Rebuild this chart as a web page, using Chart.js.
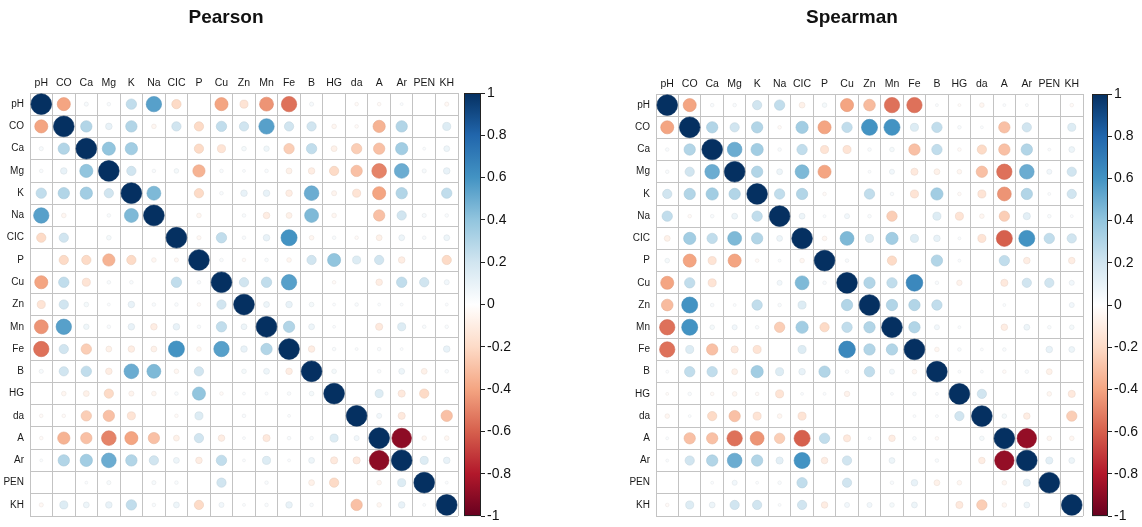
<!DOCTYPE html>
<html><head><meta charset="utf-8">
<script src="https://cdn.jsdelivr.net/npm/chart.js@4.4.0/dist/chart.umd.min.js"></script>
<style>
html,body{margin:0;padding:0;background:#fff;width:1142px;height:527px;overflow:hidden}
.box{position:absolute;top:0;height:527px}
canvas{display:block}
</style></head><body>
<div class="box" style="left:0;width:571px"><canvas id="c1" width="571" height="527"></canvas></div>
<div class="box" style="left:626px;width:516px"><canvas id="c2" width="516" height="527"></canvas></div>
<script>
// ---------- categories ----------
const variables = ["pH","CO","Ca","Mg","K","Na","CIC","P","Cu","Zn","Mn","Fe","B","HG","da","A","Ar","PEN","KH"];
const titles = ["Pearson","Spearman"];
const colorbarMin = -1, colorbarMax = 1, colorbarStep = 0.2;

// ---------- Pearson correlation rows (order = variables) ----------
const pearson_pH  = [1,-0.40,0.04,0.03,0.25,0.55,-0.20,0.00,-0.40,-0.15,-0.45,-0.55,0.04,0.00,-0.03,-0.03,0.02,0.00,-0.04];
const pearson_CO  = [-0.40,1,0.30,0.10,0.30,-0.05,0.20,-0.20,0.25,0.20,0.55,0.20,0.20,-0.05,-0.03,-0.35,0.30,0.00,0.15];
const pearson_Ca  = [0.04,0.30,1,0.40,0.35,0.00,0.00,-0.20,-0.15,0.05,0.07,-0.25,0.25,-0.08,-0.25,-0.30,0.35,0.02,0.08];
const pearson_Mg  = [0.03,0.10,0.40,1,0.20,0.03,0.05,-0.35,0.03,0.02,0.03,-0.08,-0.10,-0.20,-0.30,-0.50,0.50,0.04,0.10];
const pearson_K   = [0.25,0.30,0.35,0.20,1,0.45,0.00,-0.20,0.03,0.10,0.10,-0.10,0.50,-0.06,-0.15,-0.40,0.30,0.00,0.25];
const pearson_Na  = [0.55,-0.05,0.00,0.03,0.45,1,0.00,-0.05,0.00,0.03,-0.10,-0.08,0.45,-0.05,0.00,-0.30,0.20,0.04,0.03];
const pearson_CIC = [-0.20,0.20,0.00,0.05,0.00,0.00,1,-0.04,0.25,0.03,0.10,0.60,-0.05,0.03,-0.03,-0.08,0.08,0.03,0.08];
const pearson_P   = [0.00,-0.20,-0.20,-0.35,-0.20,-0.05,-0.04,1,0.03,-0.03,0.03,-0.05,0.20,0.40,0.15,0.20,-0.10,0.00,-0.20];
const pearson_Cu  = [-0.40,0.25,-0.15,0.03,0.03,0.00,0.25,0.03,1,0.20,0.25,0.55,0.00,-0.03,0.00,-0.10,0.25,0.20,0.06];
const pearson_Zn  = [-0.15,0.20,0.05,0.02,0.10,0.03,0.03,-0.03,0.20,1,0.08,0.10,0.05,0.02,0.03,0.02,0.02,0.00,0.02];
const pearson_Mn  = [-0.45,0.55,0.07,0.03,0.10,-0.10,0.10,0.03,0.25,0.08,1,0.30,0.08,0.02,0.00,-0.12,0.15,0.03,0.03];
const pearson_Fe  = [-0.55,0.20,-0.25,-0.08,-0.10,-0.08,0.60,-0.05,0.55,0.10,0.30,1,-0.10,0.03,0.02,0.03,0.02,0.00,0.10];
const pearson_B   = [0.04,0.20,0.25,-0.10,0.50,0.45,-0.05,0.20,0.00,0.05,0.08,-0.10,1,0.05,0.00,0.03,0.08,-0.08,0.03];
const pearson_HG  = [0.00,-0.05,-0.08,-0.20,-0.06,-0.05,0.03,0.40,-0.03,0.02,0.02,0.03,0.05,1,0.00,0.15,-0.12,-0.20,0.00];
const pearson_da  = [-0.03,-0.03,-0.25,-0.30,-0.15,0.00,-0.03,0.15,0.00,0.03,0.00,0.02,0.00,0.00,1,0.06,-0.12,0.00,-0.30];
const pearson_A   = [-0.03,-0.35,-0.30,-0.50,-0.40,-0.30,-0.08,0.20,-0.10,0.02,-0.12,0.03,0.03,0.15,0.06,1,-0.90,-0.05,-0.05];
const pearson_Ar  = [0.02,0.30,0.35,0.50,0.30,0.20,0.08,-0.10,0.25,0.02,0.15,0.02,0.08,-0.12,-0.12,-0.90,1,0.15,0.10];
const pearson_PEN = [0.00,0.00,0.02,0.04,0.00,0.04,0.03,0.00,0.20,0.00,0.03,0.00,-0.08,-0.20,0.00,-0.05,0.15,1,0.02];
const pearson_KH  = [-0.04,0.15,0.08,0.10,0.25,0.03,0.08,-0.20,0.06,0.02,0.03,0.10,0.03,0.00,-0.30,-0.05,0.10,0.02,1];

// ---------- Spearman correlation rows (order = variables) ----------
const spearman_pH  = [1,-0.40,0.03,0.03,0.20,0.25,-0.08,0.05,-0.40,-0.32,-0.55,-0.55,0.02,-0.02,-0.05,0.02,0.02,0.00,-0.03];
const spearman_CO  = [-0.40,1,0.30,0.20,0.30,-0.03,0.35,-0.40,0.25,0.60,0.60,0.15,0.25,0.03,0.02,-0.30,0.20,0.00,0.15];
const spearman_Ca  = [0.03,0.30,1,0.50,0.35,0.03,0.25,-0.15,-0.15,0.03,0.05,-0.30,0.25,-0.03,-0.20,-0.30,0.30,0.02,0.08];
const spearman_Mg  = [0.03,0.20,0.50,1,0.30,0.08,0.45,-0.40,0.00,0.02,0.06,-0.12,-0.08,-0.05,-0.30,-0.55,0.50,0.06,0.20];
const spearman_K   = [0.20,0.30,0.35,0.30,1,0.25,0.30,-0.03,0.00,0.25,0.03,-0.15,0.35,-0.03,-0.15,-0.45,0.30,0.02,0.20];
const spearman_Na  = [0.25,-0.03,0.03,0.08,0.25,1,0.08,0.02,0.06,0.03,-0.25,0.00,0.15,-0.15,-0.05,-0.25,0.12,0.03,0.02];
const spearman_CIC = [-0.08,0.35,0.25,0.45,0.30,0.08,1,-0.05,0.45,0.15,0.35,0.15,0.10,0.02,-0.15,-0.60,0.60,0.25,0.20];
const spearman_P   = [0.05,-0.40,-0.15,-0.40,-0.03,0.02,-0.05,1,0.03,0.00,-0.20,0.00,0.30,0.02,0.00,0.25,-0.10,0.00,-0.10];
const spearman_Cu  = [-0.40,0.25,-0.15,0.00,0.00,0.06,0.45,0.03,1,0.30,0.25,0.65,0.03,-0.07,0.00,-0.12,0.20,0.20,0.06];
const spearman_Zn  = [-0.32,0.60,0.03,0.02,0.25,0.03,0.15,0.00,0.30,1,0.30,0.30,0.25,0.00,0.00,0.02,0.00,0.00,0.06];
const spearman_Mn  = [-0.55,0.60,0.05,0.06,0.03,-0.25,0.35,-0.20,0.25,0.30,1,0.30,0.06,0.02,0.00,-0.10,0.08,0.03,0.05];
const spearman_Fe  = [-0.55,0.15,-0.30,-0.12,-0.15,0.00,0.15,0.00,0.65,0.30,0.30,1,-0.05,0.03,0.02,0.03,0.00,0.10,0.08];
const spearman_B   = [0.02,0.25,0.25,-0.08,0.35,0.15,0.10,0.30,0.03,0.25,0.06,-0.05,1,0.02,0.02,-0.03,0.03,-0.08,0.00];
const spearman_HG  = [-0.02,0.03,-0.03,-0.05,-0.03,-0.15,0.02,0.02,-0.07,0.00,0.02,0.03,0.02,1,0.20,0.00,0.00,-0.05,-0.12];
const spearman_da  = [-0.05,0.02,-0.20,-0.30,-0.15,-0.05,-0.15,0.00,0.00,0.00,0.00,0.02,0.02,0.20,1,0.05,-0.10,0.00,-0.25];
const spearman_A   = [0.02,-0.30,-0.30,-0.55,-0.45,-0.25,-0.60,0.25,-0.12,0.02,-0.10,0.03,-0.03,0.00,0.05,1,-0.88,-0.05,-0.05];
const spearman_Ar  = [0.02,0.20,0.30,0.50,0.30,0.12,0.60,-0.10,0.20,0.00,0.08,0.00,0.03,0.00,-0.10,-0.88,1,0.12,0.08];
const spearman_PEN = [0.00,0.00,0.02,0.06,0.02,0.03,0.25,0.00,0.20,0.00,0.03,0.10,-0.08,-0.05,0.00,-0.05,0.12,1,0.00];
const spearman_KH  = [-0.03,0.15,0.08,0.20,0.20,0.02,0.20,-0.10,0.06,0.06,0.05,0.08,0.00,-0.12,-0.25,-0.05,0.08,0.00,1];

const pearsonRows = [pearson_pH,pearson_CO,pearson_Ca,pearson_Mg,pearson_K,pearson_Na,pearson_CIC,pearson_P,pearson_Cu,pearson_Zn,pearson_Mn,pearson_Fe,pearson_B,pearson_HG,pearson_da,pearson_A,pearson_Ar,pearson_PEN,pearson_KH];
const spearmanRows = [spearman_pH,spearman_CO,spearman_Ca,spearman_Mg,spearman_K,spearman_Na,spearman_CIC,spearman_P,spearman_Cu,spearman_Zn,spearman_Mn,spearman_Fe,spearman_B,spearman_HG,spearman_da,spearman_A,spearman_Ar,spearman_PEN,spearman_KH];

// ---------- styling ----------
const RDBU = ["#67001F","#B2182B","#D6604D","#F4A582","#FDDBC7","#FFFFFF","#D1E5F0","#92C5DE","#4393C3","#2166AC","#053061"];
function hex2rgb(h){return [parseInt(h.slice(1,3),16),parseInt(h.slice(3,5),16),parseInt(h.slice(5,7),16)];}
const RDBU_RGB = RDBU.map(hex2rgb);
function colorFor(v, k){
  let t = (Math.max(-1,Math.min(1,v)) + 1) / 2 * (RDBU_RGB.length - 1);
  let i = Math.min(Math.floor(t), RDBU_RGB.length - 2), f = t - i;
  const a = RDBU_RGB[i], b = RDBU_RGB[i+1];
  const m = k || 1;
  const c = a.map((x,n)=>Math.round((x + (b[n]-x)*f) * m));
  return `rgb(${c[0]},${c[1]},${c[2]})`;
}
function valOf(c){ return (c && c.raw && typeof c.raw.v === 'number') ? c.raw.v : 0; }
const FONT = "'Liberation Sans', Arial, sans-serif";
const GRID = '#c3c3c3';

function makeChart(canvasId, title, rows, geom){
  const canvas = document.getElementById(canvasId);
  // cell size in pixels = plot width / number of categories
  const cellPx = (canvas.width - geom.left - geom.cbw) / variables.length;
  const points = [];
  rows.forEach((row,i)=>row.forEach((v,j)=>{
    if (v !== 0) points.push({x: variables[j], y: variables[i], v: v});
  }));

  const colorbarPlugin = {
    id: 'colorbar_' + canvasId,
    afterLayout(chart){
      const s = chart.scales.cb;
      const w = s.right - s.left;
      s.left = chart.chartArea.right + geom.barGap + geom.barWidth;
      s.right = s.left + w;
    },
    afterDraw(chart){
      const ctx = chart.ctx, s = chart.scales.cb;
      const x0 = chart.chartArea.right + geom.barGap;
      const top = s.getPixelForValue(colorbarMax), bot = s.getPixelForValue(colorbarMin);
      const g = ctx.createLinearGradient(0, top, 0, bot);
      RDBU.slice().reverse().forEach((c,k)=>g.addColorStop(k/(RDBU.length-1), c));
      ctx.save();
      ctx.fillStyle = g;
      ctx.fillRect(x0, top, geom.barWidth, bot - top);
      ctx.strokeStyle = '#222'; ctx.lineWidth = 1;
      ctx.strokeRect(x0 + 0.5, top + 0.5, geom.barWidth - 1, bot - top - 1);
      ctx.fillStyle = '#111';
      ctx.font = `bold 19px ${FONT}`;
      ctx.textAlign = 'center'; ctx.textBaseline = 'alphabetic';
      ctx.fillText(title, (chart.chartArea.left + chart.chartArea.right)/2 + geom.titleDx, geom.titleY);
      ctx.restore();
    }
  };

  return new Chart(canvas, {
    type: 'bubble',
    data: { datasets: [{
      xAxisID: 'x', yAxisID: 'y',
      data: points,
      backgroundColor: c => colorFor(valOf(c)),
      borderColor: c => colorFor(valOf(c), 0.93),
      borderWidth: 0.6,
      radius: c => cellPx * 0.46 * Math.sqrt(Math.abs(valOf(c)))
    }]},
    options: {
      responsive: false, animation: false, events: [],
      layout: { padding: { left: 0, right: 0, top: 0, bottom: geom.bottom } },
      plugins: { legend: { display: false }, tooltip: { enabled: false }, title: { display: false } },
      scales: {
        x: {
          type: 'category', labels: variables, position: 'top', offset: true,
          grid: { offset: true, color: GRID, lineWidth: 1, drawTicks: false },
          border: { display: false },
          ticks: { autoSkip: false, maxRotation: 0, minRotation: 0, padding: 4, color: '#1a1a1a', font: { family: FONT, size: 10.5 } },
          afterFit: s => { s.height = geom.top; s.paddingLeft = 0; s.paddingRight = 0; }
        },
        y: {
          type: 'category', labels: variables, position: 'left', offset: true,
          grid: { offset: true, color: GRID, lineWidth: 1, drawTicks: false },
          border: { display: false },
          ticks: { autoSkip: false, padding: 6, color: '#1a1a1a', font: { family: FONT, size: 10 } },
          afterFit: s => { s.width = geom.left; s.paddingTop = 0; s.paddingBottom = 0; }
        },
        cb: {
          type: 'linear', axis: 'y', position: 'right', min: colorbarMin, max: colorbarMax,
          grid: { drawOnChartArea: false, drawTicks: true, tickLength: 4, color: '#222', lineWidth: 1 },
          border: { display: false },
          ticks: { stepSize: colorbarStep, padding: 2, color: '#111', font: { family: FONT, size: 14 },
                   callback: v => String(Math.round(v * 10) / 10) },
          afterFit: s => { s.width = geom.cbw; s.paddingTop = 0; s.paddingBottom = 0; }
        }
      }
    },
    plugins: [colorbarPlugin]
  });
}

makeChart('c1', titles[0], pearsonRows,  { left: 30, top: 93, bottom: 7, cbw: 113, barGap: 6, barWidth: 17, titleDx: -18, titleY: 23 });
makeChart('c2', titles[1], spearmanRows, { left: 30, top: 94, bottom: 7, cbw: 59,  barGap: 9, barWidth: 16, titleDx: -17.5, titleY: 23 });
</script>
</body></html>
